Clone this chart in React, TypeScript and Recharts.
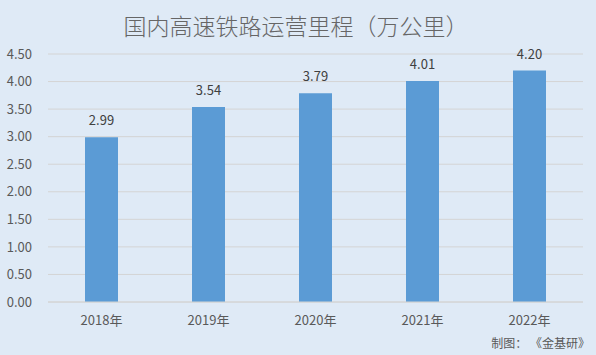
import React from "react";
import { BarChart, Bar, XAxis, YAxis, CartesianGrid, LabelList } from "recharts";

const categories = ["2018年", "2019年", "2020年", "2021年", "2022年"];
const mileage = [2.99, 3.54, 3.79, 4.01, 4.2];
const yTicks = [0, 0.5, 1, 1.5, 2, 2.5, 3, 3.5, 4, 4.5];

const data = categories.map((c, i) => ({ year: c, value: mileage[i] }));

const FONT = "'Noto Sans CJK SC', 'Noto Sans', sans-serif";

export default function App() {
  return (
    <div style={{ position: "absolute", left: 0, top: 0, width: 596, height: 355, background: "#dfeaf6", fontFamily: FONT }}>
      <div style={{ position: "absolute", left: 0, top: 8, width: 592, textAlign: "center", fontSize: 23, color: "#666666", fontWeight: 300 }}>
        国内高速铁路运营里程（万公里）
      </div>
      <BarChart width={596} height={355} data={data} margin={{ top: 54, right: 13, bottom: 23, left: 0 }}>
        <CartesianGrid vertical={false} stroke="#d4d4d4" />
        <XAxis
          dataKey="year"
          height={30}
          tickLine={false}
          axisLine={{ stroke: "#d4d4d4" }}
          tick={{ fill: "#595959", fontSize: 13, fontFamily: FONT }}
          tickMargin={8}
        />
        <YAxis
          width={48}
          domain={[0, 4.5]}
          ticks={yTicks}
          interval={0}
          tickFormatter={(v: number) => v.toFixed(2)}
          tickLine={false}
          axisLine={false}
          tickSize={0}
          tickMargin={16}
          tick={{ fill: "#595959", fontSize: 13, fontFamily: FONT }}
        />
        <Bar dataKey="value" fill="#5b9bd5" barSize={33} isAnimationActive={false}>
          <LabelList
            dataKey="value"
            position="top"
            offset={12}
            formatter={(v: number) => v.toFixed(2)}
            style={{ fill: "#404040", fontSize: 13, fontFamily: FONT }}
          />
        </Bar>
      </BarChart>
      <div style={{ position: "absolute", right: 6, top: 334, fontSize: 12, color: "#595959" }}>
        制图： 《金基研》
      </div>
    </div>
  );
}
